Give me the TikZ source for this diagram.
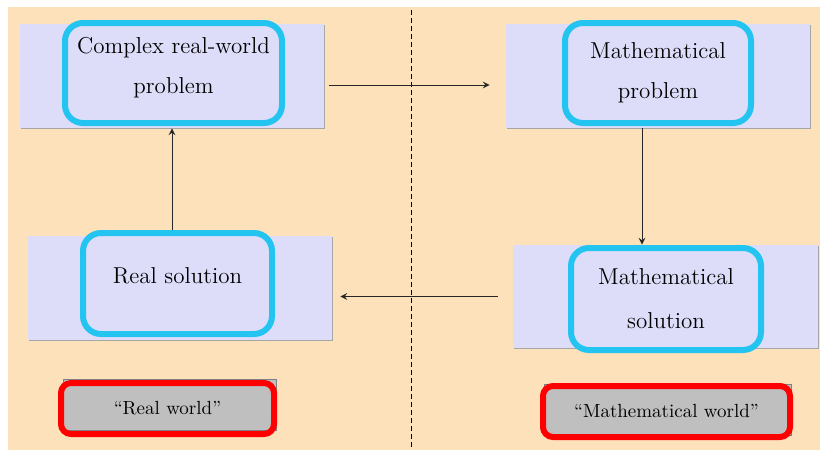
\documentclass[tikz,border=0pt]{standalone}
\usepackage{xcolor}
\usepackage{tikz}
\usetikzlibrary{shapes,positioning,shadows}
\definecolor{peach}{RGB}{253,225,186}
\definecolor{lavender}{RGB}{221,221,250}
\definecolor{skyline}{RGB}{36,196,240}
\definecolor{quotegray}{RGB}{191,191,191}
\tikzset{panel/.style={rectangle,fill=lavender,minimum width=152pt,minimum height=52pt,inner sep=0pt,
    general shadow={fill=gray!70,shadow xshift=0.6pt,shadow yshift=-0.6pt}},
  stage/.style={rectangle,rounded corners=9pt,draw=skyline,line width=3pt,fill=lavender,align=center,
    inner sep=0pt,font=\fontsize{11.5}{20}\selectfont},
  slab/.style={rectangle,fill=quotegray,draw=gray,line width=0.4pt,minimum height=25.5pt,inner sep=0pt},
  world/.style={rectangle,rounded corners=5pt,draw=red,line width=3pt,minimum height=25.5pt,inner sep=0pt,
    font=\fontsize{9.5}{11}\selectfont},
  link/.style={->,line width=0.5pt,black!85}}

\begin{document}
\begin{tikzpicture}[x=0.5pt,y=-0.5pt,>=stealth]
    \useasboundingbox (0,0) rectangle (820,450);
    \fill[peach] (8,7) rectangle (820,450);
    \draw[line width=0.5pt,dash pattern=on 2.5pt off 1.5pt] (411,10) -- (411,450);

    \node[panel] (p1) at (172,76) {};
    \node[panel] (p2) at (658,76) {};
    \node[panel] (p3) at (180,288) {};
    \node[panel,minimum width=152.5pt,minimum height=51.5pt] (p4) at (665.5,296.5) {};

    \node[stage,minimum width=108.5pt,minimum height=50pt,text depth=8pt] (b1) at (173.5,73) {Complex real-world\\problem};
    \node[stage,minimum width=93pt,minimum height=50pt] (b2) at (658,73) {Mathematical\\problem};
    \node[stage,minimum width=94.5pt,minimum height=50.5pt,text depth=8pt] (b3) at (177.5,283.5) {Real solution};
    \node[stage,minimum width=95pt,minimum height=51pt,font=\fontsize{11.5}{22}\selectfont] (b4) at (666,299) {Mathematical\\solution};

    \node[slab,minimum width=106.5pt] (g1) at (169.5,405) {};
    \node[world,minimum width=106.5pt] (w1) at (167.5,408.5) {``Real world''};
    \node[slab,minimum width=123.5pt] (g2) at (668,410) {};
    \node[world,minimum width=123.5pt] (w2) at (666.5,411.5) {``Mathematical world''};

    \draw [link,shorten <=2.5pt,shorten >=8pt] ([yshift=-4.5pt]p1.east) to ([yshift=-4.5pt]p2.west);
    \draw [link] ([xshift=-8pt]p2.south) to ([xshift=-8pt]p2.south |- p4.north);
    \draw [link,shorten <=7.5pt,shorten >=4pt] (p4.west) to (p4.west -| p3.east);
    \draw [link] (b3.north -| p1.south) to (p1.south);
\end{tikzpicture}
\end{document}
